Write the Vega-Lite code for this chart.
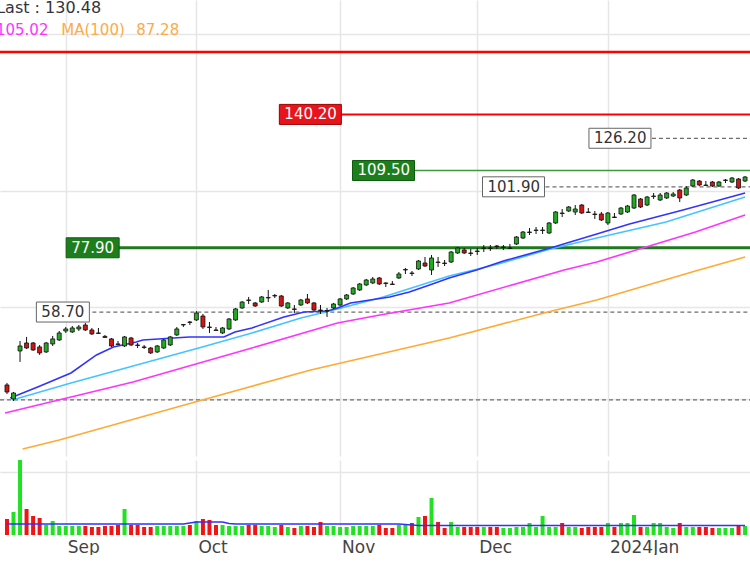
{
"$schema": "https://vega.github.io/schema/vega-lite/v6.json",
"padding": 0,
"background": "#ffffff",
"spacing": 4,
"config": {"view": {"stroke": null}, "font": "DejaVu Sans", "axis": {"gridColor": "#e6e6e6", "gridWidth": 1.5, "domain": false, "ticks": false, "title": null, "minExtent": 0}},
"datasets": {
"levels": [
{"label": "", "kind": "redtop", "p": 184.6, "start": -15},
{"label": "140.20", "kind": "red", "p": 140.2, "start": 41.7},
{"label": "126.20", "kind": "dash", "p": 126.2, "start": 89.1},
{"label": "109.50", "kind": "green", "p": 109.5, "start": 52.9},
{"label": "101.90", "kind": "dash", "p": 101.9, "start": 72.8},
{"label": "77.90", "kind": "greenthick", "p": 77.9, "start": 9.06},
{"label": "58.70", "kind": "dash", "p": 58.7, "start": 4.5},
{"label": "", "kind": "dash", "p": 39.85, "start": -15}
],
"ma": [
{"s":"b","i":0.5,"p":40.2},{"s":"b","i":4.7,"p":42.2},{"s":"b","i":9.8,"p":44.88},{"s":"b","i":13.7,"p":48.59},{"s":"b","i":16.3,"p":50.33},{"s":"b","i":19.8,"p":51.44},{"s":"b","i":20.8,"p":51.9},{"s":"b","i":27.9,"p":52.6},{"s":"b","i":33.2,"p":52.6},{"s":"b","i":34.9,"p":53.76},{"s":"b","i":37.5,"p":54.72},{"s":"b","i":42.4,"p":57.44},{"s":"b","i":45.5,"p":58.71},{"s":"b","i":49.1,"p":58.97},{"s":"b","i":50.6,"p":59.76},{"s":"b","i":52.6,"p":61.09},{"s":"b","i":55.6,"p":61.9},{"s":"b","i":58.6,"p":62.73},{"s":"b","i":61.6,"p":64.12},{"s":"b","i":64.7,"p":66.13},{"s":"b","i":67.7,"p":68.2},{"s":"b","i":71.9,"p":70.64},{"s":"b","i":76.0,"p":73.5},{"s":"b","i":83.2,"p":77.83},{"s":"b","i":90.3,"p":82.78},{"s":"b","i":95.3,"p":86.51},{"s":"b","i":103.5,"p":92.01},{"s":"b","i":113.0,"p":99.16},
{"s":"c","i":0.8,"p":39.85},{"s":"c","i":9.8,"p":42.95},{"s":"c","i":19.3,"p":46.29},{"s":"c","i":29.9,"p":50.33},{"s":"c","i":37.5,"p":53.53},{"s":"c","i":45.0,"p":57.18},{"s":"c","i":50.6,"p":59.5},{"s":"c","i":57.6,"p":62.73},{"s":"c","i":67.7,"p":68.8},{"s":"c","i":75.2,"p":72.54},{"s":"c","i":83.2,"p":77.49},{"s":"c","i":90.3,"p":81.33},{"s":"c","i":100.9,"p":87.27},{"s":"c","i":113.0,"p":97.44},
{"s":"m","i":-0.3,"p":37.63},{"s":"m","i":19.3,"p":43.14},{"s":"m","i":37.5,"p":50.1},{"s":"m","i":50.6,"p":55.94},{"s":"m","i":57.1,"p":57.94},{"s":"m","i":67.7,"p":61.09},{"s":"m","i":85.3,"p":70.64},{"s":"m","i":90.3,"p":73.17},{"s":"m","i":105.4,"p":83.51},{"s":"m","i":113.0,"p":90.0},
{"s":"o","i":2.4,"p":32.11},{"s":"o","i":8.0,"p":33.41},{"s":"o","i":29.9,"p":39.85},{"s":"o","i":46.5,"p":45.48},{"s":"o","i":67.7,"p":52.36},{"s":"o","i":82.8,"p":58.71},{"s":"o","i":90.3,"p":61.9},{"s":"o","i":105.4,"p":70.33},{"s":"o","i":113.0,"p":74.81}
],
"candles": [
{"i":0,"o":42.57,"h":42.95,"l":40.91,"c":41.27,"v":128,"vma":88},
{"i":1,"o":40.02,"h":41.27,"l":39.67,"c":41.09,"v":184,"vma":88},
{"i":2,"o":49.45,"h":51.67,"l":47.11,"c":50.55,"v":600,"vma":88},
{"i":3,"o":51.22,"h":52.6,"l":49.89,"c":50.1,"v":208,"vma":88},
{"i":4,"o":51.22,"h":51.44,"l":49.45,"c":49.67,"v":152,"vma":88},
{"i":5,"o":50.33,"h":50.77,"l":48.59,"c":49.02,"v":136,"vma":88},
{"i":6,"o":49.23,"h":51.44,"l":49.02,"c":51.22,"v":80,"vma":88},
{"i":7,"o":51.0,"h":52.83,"l":50.55,"c":52.14,"v":112,"vma":88},
{"i":8,"o":51.9,"h":54.0,"l":51.67,"c":53.53,"v":72,"vma":88},
{"i":9,"o":54.0,"h":54.96,"l":53.53,"c":54.48,"v":72,"vma":88},
{"i":10,"o":53.76,"h":55.2,"l":53.53,"c":54.72,"v":72,"vma":88},
{"i":11,"o":54.48,"h":55.44,"l":54.0,"c":54.96,"v":72,"vma":88},
{"i":12,"o":55.44,"h":55.94,"l":54.0,"c":54.24,"v":72,"vma":88},
{"i":13,"o":54.24,"h":54.72,"l":53.06,"c":53.3,"v":64,"vma":88},
{"i":14,"o":53.53,"h":54.72,"l":53.3,"c":53.42,"v":64,"vma":88},
{"i":15,"o":52.72,"h":53.06,"l":52.36,"c":52.48,"v":72,"vma":88},
{"i":16,"o":52.14,"h":52.36,"l":50.33,"c":50.55,"v":72,"vma":88},
{"i":17,"o":51.0,"h":51.67,"l":50.77,"c":50.89,"v":80,"vma":88},
{"i":18,"o":50.55,"h":52.83,"l":50.33,"c":52.6,"v":208,"vma":88},
{"i":19,"o":52.36,"h":52.6,"l":50.55,"c":50.77,"v":80,"vma":88},
{"i":20,"o":50.77,"h":51.22,"l":50.1,"c":50.66,"v":80,"vma":88},
{"i":21,"o":50.33,"h":50.77,"l":49.89,"c":50.22,"v":64,"vma":88},
{"i":22,"o":50.1,"h":50.33,"l":48.81,"c":49.02,"v":64,"vma":88},
{"i":23,"o":49.23,"h":50.77,"l":49.02,"c":50.55,"v":72,"vma":88},
{"i":24,"o":50.1,"h":52.14,"l":49.89,"c":51.9,"v":72,"vma":88},
{"i":25,"o":50.77,"h":52.83,"l":50.55,"c":52.6,"v":72,"vma":88},
{"i":26,"o":53.06,"h":54.96,"l":52.83,"c":54.48,"v":72,"vma":88},
{"i":27,"o":55.44,"h":55.69,"l":54.96,"c":55.56,"v":72,"vma":88},
{"i":28,"o":56.18,"h":56.43,"l":55.44,"c":56.06,"v":80,"vma":96},
{"i":29,"o":56.68,"h":58.97,"l":56.43,"c":58.45,"v":112,"vma":104},
{"i":30,"o":57.68,"h":58.2,"l":54.48,"c":54.96,"v":128,"vma":104},
{"i":31,"o":54.96,"h":56.18,"l":53.53,"c":54.84,"v":120,"vma":104},
{"i":32,"o":54.24,"h":54.96,"l":54.0,"c":54.12,"v":80,"vma":104},
{"i":33,"o":53.53,"h":54.96,"l":53.3,"c":54.72,"v":80,"vma":104},
{"i":34,"o":54.48,"h":57.18,"l":54.24,"c":56.93,"v":72,"vma":92},
{"i":35,"o":56.68,"h":59.76,"l":56.43,"c":59.5,"v":72,"vma":88},
{"i":36,"o":59.76,"h":61.63,"l":59.5,"c":61.35,"v":72,"vma":88},
{"i":37,"o":61.9,"h":62.73,"l":60.82,"c":61.77,"v":80,"vma":88},
{"i":38,"o":61.09,"h":61.35,"l":60.02,"c":60.28,"v":80,"vma":88},
{"i":39,"o":61.35,"h":63.0,"l":61.09,"c":62.73,"v":72,"vma":88},
{"i":40,"o":62.45,"h":64.69,"l":61.35,"c":62.59,"v":72,"vma":88},
{"i":41,"o":63.0,"h":63.56,"l":62.45,"c":63.14,"v":64,"vma":88},
{"i":42,"o":63.0,"h":63.28,"l":60.02,"c":60.28,"v":80,"vma":88},
{"i":43,"o":59.76,"h":61.35,"l":59.5,"c":61.09,"v":64,"vma":88},
{"i":44,"o":59.5,"h":60.55,"l":58.45,"c":59.37,"v":56,"vma":88},
{"i":45,"o":60.55,"h":62.18,"l":60.28,"c":61.9,"v":72,"vma":88},
{"i":46,"o":62.18,"h":63.56,"l":60.82,"c":61.09,"v":72,"vma":88},
{"i":47,"o":61.09,"h":61.35,"l":58.97,"c":59.23,"v":64,"vma":88},
{"i":48,"o":59.23,"h":60.55,"l":58.2,"c":59.1,"v":104,"vma":88},
{"i":49,"o":58.97,"h":59.76,"l":57.44,"c":59.1,"v":72,"vma":88},
{"i":50,"o":59.76,"h":61.09,"l":59.5,"c":60.82,"v":72,"vma":88},
{"i":51,"o":60.55,"h":62.45,"l":60.28,"c":62.18,"v":64,"vma":88},
{"i":52,"o":62.18,"h":63.56,"l":61.9,"c":63.28,"v":64,"vma":88},
{"i":53,"o":63.56,"h":65.55,"l":63.28,"c":65.26,"v":72,"vma":88},
{"i":54,"o":64.69,"h":66.72,"l":64.41,"c":66.42,"v":72,"vma":88},
{"i":55,"o":66.13,"h":67.9,"l":65.84,"c":67.6,"v":72,"vma":88},
{"i":56,"o":66.72,"h":68.5,"l":66.42,"c":67.9,"v":72,"vma":88},
{"i":57,"o":68.2,"h":68.5,"l":66.13,"c":66.42,"v":80,"vma":88},
{"i":58,"o":66.72,"h":66.87,"l":65.55,"c":66.57,"v":56,"vma":88},
{"i":59,"o":66.42,"h":67.3,"l":66.13,"c":66.27,"v":56,"vma":88},
{"i":60,"o":68.2,"h":70.02,"l":67.9,"c":69.41,"v":80,"vma":88},
{"i":61,"o":70.64,"h":71.27,"l":69.41,"c":70.8,"v":80,"vma":84},
{"i":62,"o":69.71,"h":70.33,"l":68.8,"c":69.56,"v":96,"vma":80},
{"i":63,"o":70.96,"h":73.82,"l":70.64,"c":73.5,"v":144,"vma":76},
{"i":64,"o":72.85,"h":74.81,"l":71.58,"c":71.89,"v":152,"vma":76},
{"i":65,"o":70.64,"h":75.47,"l":69.1,"c":74.48,"v":296,"vma":76},
{"i":66,"o":73.17,"h":74.81,"l":71.58,"c":73.01,"v":104,"vma":76},
{"i":67,"o":72.85,"h":73.82,"l":71.89,"c":72.69,"v":56,"vma":76},
{"i":68,"o":73.17,"h":76.81,"l":72.85,"c":76.47,"v":104,"vma":76},
{"i":69,"o":76.14,"h":78.18,"l":75.81,"c":77.83,"v":64,"vma":76},
{"i":70,"o":77.15,"h":77.83,"l":75.81,"c":76.14,"v":64,"vma":76},
{"i":71,"o":76.14,"h":77.49,"l":75.14,"c":75.97,"v":64,"vma":76},
{"i":72,"o":76.81,"h":77.83,"l":75.47,"c":76.64,"v":64,"vma":76},
{"i":73,"o":77.66,"h":78.86,"l":76.47,"c":77.83,"v":64,"vma":76},
{"i":74,"o":77.83,"h":78.86,"l":76.81,"c":77.66,"v":64,"vma":76},
{"i":75,"o":78.52,"h":78.86,"l":77.49,"c":78.35,"v":64,"vma":76},
{"i":76,"o":78.01,"h":78.86,"l":77.15,"c":78.18,"v":56,"vma":76},
{"i":77,"o":77.66,"h":79.22,"l":77.49,"c":77.83,"v":56,"vma":76},
{"i":78,"o":79.22,"h":82.05,"l":78.86,"c":81.7,"v":64,"vma":76},
{"i":79,"o":81.33,"h":83.88,"l":80.98,"c":83.51,"v":64,"vma":76},
{"i":80,"o":83.33,"h":84.99,"l":82.41,"c":83.51,"v":96,"vma":76},
{"i":81,"o":84.07,"h":85.37,"l":82.78,"c":84.25,"v":64,"vma":76},
{"i":82,"o":84.07,"h":85.37,"l":82.78,"c":84.25,"v":152,"vma":76},
{"i":83,"o":83.15,"h":87.27,"l":82.78,"c":86.89,"v":64,"vma":76},
{"i":84,"o":86.89,"h":91.61,"l":86.51,"c":91.2,"v":64,"vma":76},
{"i":85,"o":90.8,"h":92.42,"l":89.22,"c":90.6,"v":96,"vma":76},
{"i":86,"o":91.61,"h":93.64,"l":91.2,"c":93.24,"v":64,"vma":76},
{"i":87,"o":91.2,"h":94.05,"l":90.0,"c":92.42,"v":64,"vma":76},
{"i":88,"o":94.05,"h":94.48,"l":90.41,"c":90.8,"v":56,"vma":76},
{"i":89,"o":91.2,"h":92.82,"l":90.8,"c":91.0,"v":64,"vma":76},
{"i":90,"o":90.41,"h":91.61,"l":88.44,"c":90.2,"v":64,"vma":76},
{"i":91,"o":90.41,"h":91.2,"l":87.65,"c":88.04,"v":64,"vma":76},
{"i":92,"o":86.89,"h":91.2,"l":86.12,"c":90.8,"v":96,"vma":76},
{"i":93,"o":89.22,"h":90.8,"l":88.83,"c":89.02,"v":64,"vma":76},
{"i":94,"o":90.41,"h":93.24,"l":90.0,"c":92.82,"v":96,"vma":76},
{"i":95,"o":91.2,"h":94.05,"l":90.8,"c":93.64,"v":96,"vma":76},
{"i":96,"o":92.82,"h":98.73,"l":92.42,"c":98.29,"v":160,"vma":76},
{"i":97,"o":96.58,"h":97.0,"l":92.82,"c":93.24,"v":64,"vma":76},
{"i":98,"o":94.05,"h":97.86,"l":93.64,"c":97.44,"v":64,"vma":76},
{"i":99,"o":97.65,"h":99.16,"l":96.58,"c":97.86,"v":96,"vma":76},
{"i":100,"o":96.15,"h":99.16,"l":95.73,"c":98.29,"v":96,"vma":76},
{"i":101,"o":97.0,"h":99.6,"l":96.58,"c":99.16,"v":64,"vma":76},
{"i":102,"o":97.86,"h":99.6,"l":97.44,"c":98.73,"v":56,"vma":76},
{"i":103,"o":100.48,"h":100.94,"l":95.3,"c":97.0,"v":96,"vma":76},
{"i":104,"o":98.29,"h":102.27,"l":97.86,"c":101.38,"v":64,"vma":76},
{"i":105,"o":102.27,"h":105.48,"l":101.83,"c":105.01,"v":64,"vma":76},
{"i":106,"o":104.55,"h":105.01,"l":102.27,"c":102.72,"v":64,"vma":76},
{"i":107,"o":102.72,"h":104.55,"l":102.27,"c":102.5,"v":64,"vma":76},
{"i":108,"o":104.09,"h":104.55,"l":101.83,"c":102.27,"v":56,"vma":76},
{"i":109,"o":102.27,"h":104.55,"l":101.83,"c":104.09,"v":56,"vma":76},
{"i":110,"o":104.78,"h":105.48,"l":103.63,"c":105.01,"v":56,"vma":76},
{"i":111,"o":104.09,"h":106.41,"l":103.63,"c":105.94,"v":56,"vma":76},
{"i":112,"o":105.48,"h":105.94,"l":100.94,"c":101.38,"v":80,"vma":76},
{"i":113,"o":104.55,"h":106.88,"l":104.09,"c":106.41,"v":72,"vma":76}
]
},
"vconcat": [
{
"width": 750, "height": 456,
"layer": [
{"data": {"name": "levels"}, "transform": [{"filter": "datum.kind == 'redtop' || datum.kind == 'red'"}],
 "mark": {"type": "rule", "clip": true, "color": "#ff0000"},
 "encoding": {
  "x": {"field": "start", "type": "quantitative", "scale": {"domain": [-0.302, 112.99], "nice": false, "zero": false}, "axis": {"values": [9, 29, 51, 72, 92], "grid": true, "labels": false}},
  "x2": {"datum": 120},
  "y": {"field": "p", "type": "quantitative", "scale": {"type": "log", "domain": [31.13, 232.07], "nice": false}, "axis": {"values": [40, 60, 100, 200], "grid": true, "labels": false}},
  "strokeWidth": {"condition": {"test": "datum.kind == 'redtop'", "value": 2.5}, "value": 2}}},
{"data": {"name": "levels"}, "transform": [{"filter": "datum.kind == 'green'"}],
 "mark": {"type": "rule", "clip": true, "color": "#3c9a3c", "strokeWidth": 1.5},
 "encoding": {"x": {"field": "start", "type": "quantitative"}, "x2": {"datum": 120}, "y": {"field": "p", "type": "quantitative"}}},
{"data": {"name": "levels"}, "transform": [{"filter": "datum.kind == 'greenthick'"}],
 "mark": {"type": "rule", "clip": true, "color": "#1f7a1f", "strokeWidth": 3},
 "encoding": {"x": {"field": "start", "type": "quantitative"}, "x2": {"datum": 120}, "y": {"field": "p", "type": "quantitative"}}},
{"data": {"name": "levels"}, "transform": [{"filter": "datum.kind == 'dash'"}],
 "mark": {"type": "rule", "clip": true, "color": "#6e6e6e", "strokeWidth": 1.3, "strokeDash": [4, 3]},
 "encoding": {"x": {"field": "start", "type": "quantitative"}, "x2": {"datum": 120}, "y": {"field": "p", "type": "quantitative"}}},
{"data": {"name": "ma"}, "transform": [{"filter": "datum.s == 'o'"}],
 "mark": {"type": "line", "clip": true, "color": "#ffaa33", "strokeWidth": 1.6},
 "encoding": {"x": {"field": "i", "type": "quantitative"}, "y": {"field": "p", "type": "quantitative"}}},
{"data": {"name": "ma"}, "transform": [{"filter": "datum.s == 'm'"}],
 "mark": {"type": "line", "clip": true, "color": "#ff33ff", "strokeWidth": 1.6},
 "encoding": {"x": {"field": "i", "type": "quantitative"}, "y": {"field": "p", "type": "quantitative"}}},
{"data": {"name": "ma"}, "transform": [{"filter": "datum.s == 'c'"}],
 "mark": {"type": "line", "clip": true, "color": "#44c4ff", "strokeWidth": 1.6},
 "encoding": {"x": {"field": "i", "type": "quantitative"}, "y": {"field": "p", "type": "quantitative"}}},
{"data": {"name": "ma"}, "transform": [{"filter": "datum.s == 'b'"}],
 "mark": {"type": "line", "clip": true, "color": "#3333ff", "strokeWidth": 1.6},
 "encoding": {"x": {"field": "i", "type": "quantitative"}, "y": {"field": "p", "type": "quantitative"}}},
{"data": {"name": "candles"},
 "mark": {"type": "rule", "clip": true, "color": "#111111", "strokeWidth": 1},
 "encoding": {"x": {"field": "i", "type": "quantitative"}, "y": {"field": "l", "type": "quantitative"}, "y2": {"field": "h"}}},
{"data": {"name": "candles"},
 "mark": {"type": "bar", "orient": "vertical", "clip": true, "width": 4, "stroke": "#111111", "strokeWidth": 0.8},
 "encoding": {"x": {"field": "i", "type": "quantitative"}, "y": {"field": "o", "type": "quantitative"}, "y2": {"field": "c"},
  "fill": {"condition": {"test": "datum.c >= datum.o", "value": "#22aa22"}, "value": "#d41414"}}},
{"data": {"name": "levels"}, "transform": [{"filter": "length(datum.label) == 6"}],
 "mark": {"type": "rect", "clip": true, "x2Offset": 62, "yOffset": -10, "y2Offset": 10, "strokeWidth": 1},
 "encoding": {"x": {"field": "start", "type": "quantitative"}, "x2": {"field": "start"}, "y": {"field": "p", "type": "quantitative"}, "y2": {"field": "p"},
  "fill": {"condition": [{"test": "datum.kind == 'red'", "value": "#e8141c"}, {"test": "datum.kind == 'green' || datum.kind == 'greenthick'", "value": "#1e7e1e"}], "value": "#ffffff"},
  "stroke": {"condition": [{"test": "datum.kind == 'red'", "value": "#9b0000"}, {"test": "datum.kind == 'green' || datum.kind == 'greenthick'", "value": "#0d5c0d"}], "value": "#666666"}}},
{"data": {"name": "levels"}, "transform": [{"filter": "length(datum.label) == 5"}],
 "mark": {"type": "rect", "clip": true, "x2Offset": 53, "yOffset": -10, "y2Offset": 10, "strokeWidth": 1},
 "encoding": {"x": {"field": "start", "type": "quantitative"}, "x2": {"field": "start"}, "y": {"field": "p", "type": "quantitative"}, "y2": {"field": "p"},
  "fill": {"condition": [{"test": "datum.kind == 'red'", "value": "#e8141c"}, {"test": "datum.kind == 'green' || datum.kind == 'greenthick'", "value": "#1e7e1e"}], "value": "#ffffff"},
  "stroke": {"condition": [{"test": "datum.kind == 'red'", "value": "#9b0000"}, {"test": "datum.kind == 'green' || datum.kind == 'greenthick'", "value": "#0d5c0d"}], "value": "#666666"}}},
{"data": {"name": "levels"}, "transform": [{"filter": "datum.label != ''"}],
 "mark": {"type": "text", "clip": true, "align": "left", "baseline": "middle", "dx": 5, "font": "DejaVu Sans", "fontSize": 15},
 "encoding": {"x": {"field": "start", "type": "quantitative"}, "y": {"field": "p", "type": "quantitative"}, "text": {"field": "label"},
  "fill": {"condition": {"test": "datum.kind == 'dash'", "value": "#333333"}, "value": "#ffffff"}}},
{"data": {"values": [{}]},
 "mark": {"type": "text", "clip": true, "text": "Last : 130.48", "align": "left", "baseline": "middle", "font": "DejaVu Sans", "fontSize": 16, "color": "#333340"},
 "encoding": {"x": {"datum": -1.65}, "y": {"datum": 223.7}}},
{"data": {"values": [{}]},
 "mark": {"type": "text", "clip": true, "text": "105.02", "align": "left", "baseline": "middle", "font": "DejaVu Sans", "fontSize": 15, "color": "#ff33ff"},
 "encoding": {"x": {"datum": -1.69}, "y": {"datum": 203.3}}},
{"data": {"values": [{}]},
 "mark": {"type": "text", "clip": true, "text": "MA(100)", "align": "left", "baseline": "middle", "font": "DejaVu Sans", "fontSize": 15, "color": "#ffaa44"},
 "encoding": {"x": {"datum": 8.31}, "y": {"datum": 203.3}}},
{"data": {"values": [{}]},
 "mark": {"type": "text", "clip": true, "text": "87.28", "align": "left", "baseline": "middle", "font": "DejaVu Sans", "fontSize": 15, "color": "#ffaa44"},
 "encoding": {"x": {"datum": 19.79}, "y": {"datum": 203.3}}}
]
},
{
"width": 750, "height": 75,
"data": {"name": "candles"},
"layer": [
{"mark": {"type": "bar", "orient": "vertical", "clip": true, "width": 4},
 "encoding": {
  "x": {"field": "i", "type": "quantitative", "scale": {"domain": [-0.302, 112.99], "nice": false, "zero": false},
   "axis": {"values": [9, 29, 51, 72, 92], "grid": true, "labels": true, "labelExpr": "datum.value == 9 ? 'Sep' : datum.value == 29 ? 'Oct' : datum.value == 51 ? 'Nov' : datum.value == 72 ? 'Dec' : '2024Jan'", "labelAlign": "left", "labelBaseline": "top", "labelPadding": 4, "labelOffset": 1.5, "labelFont": "DejaVu Sans", "labelFontSize": 17, "labelColor": "#444444", "labelOverlap": false, "labelFlush": false}},
  "y": {"field": "v", "type": "quantitative", "scale": {"domain": [0, 600], "nice": false}, "axis": {"values": [500], "grid": true, "labels": false}},
  "fill": {"condition": {"test": "datum.c >= datum.o", "value": "#22e022"}, "value": "#f01414"}}},
{"mark": {"type": "line", "clip": true, "color": "#3030ff", "strokeWidth": 1.6},
 "encoding": {"x": {"field": "i", "type": "quantitative"}, "y": {"field": "vma", "type": "quantitative"}}}
]
}
]
}
